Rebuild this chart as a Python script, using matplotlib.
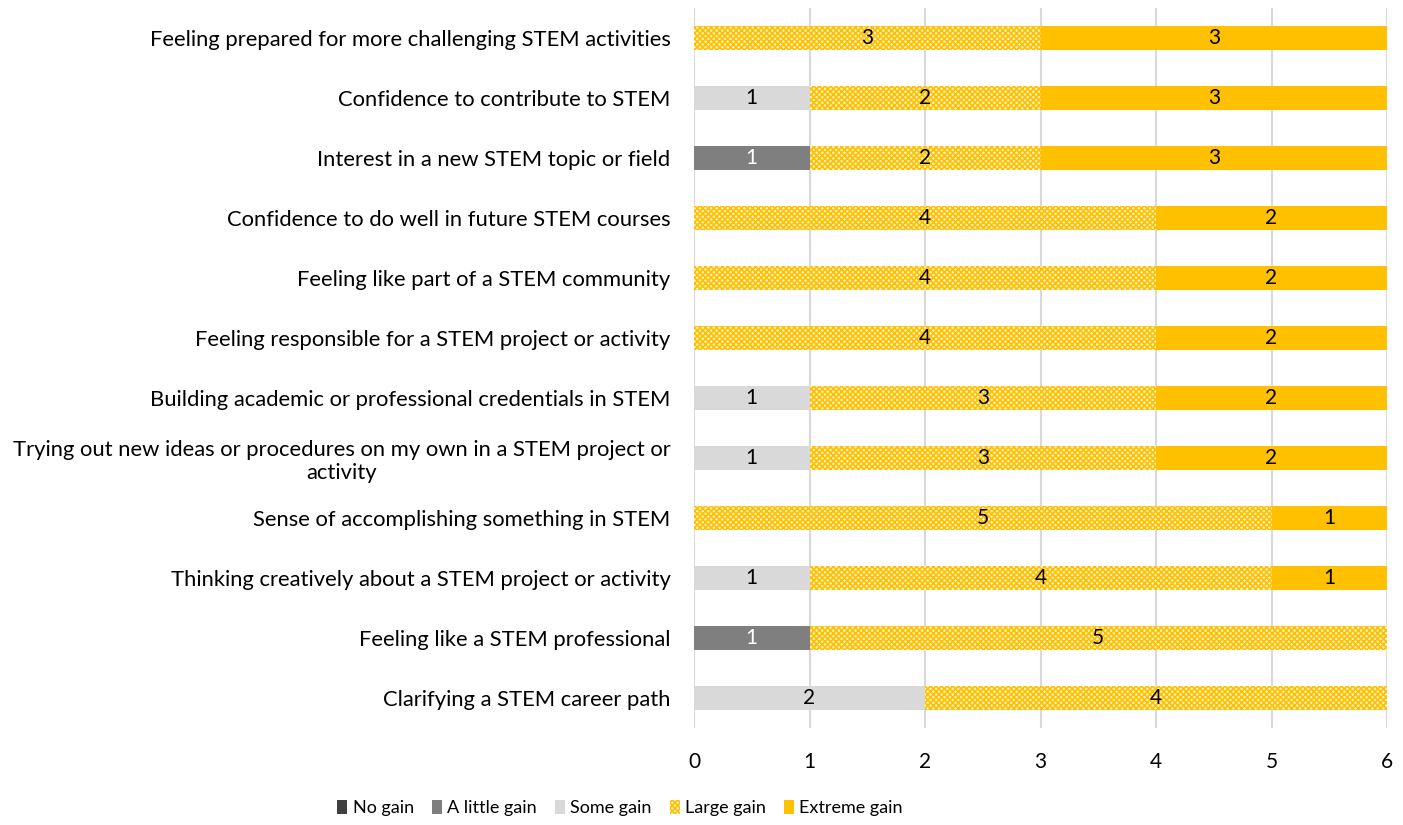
import matplotlib.pyplot as plt
import numpy as np

plt.rcParams["font.family"] = ["Lato", "DejaVu Sans"]
plt.rcParams["hatch.linewidth"] = 1.2

categories = [
    "Feeling prepared for more challenging STEM activities",
    "Confidence to contribute to STEM",
    "Interest in a new STEM topic or field",
    "Confidence to do well in future STEM courses",
    "Feeling like part of a STEM community",
    "Feeling responsible for a STEM project or activity",
    "Building academic or professional credentials in STEM",
    "Trying out new ideas or procedures on my own in a STEM project or\nactivity",
    "Sense of accomplishing something in STEM",
    "Thinking creatively about a STEM project or activity",
    "Feeling like a STEM professional",
    "Clarifying a STEM career path",
]

no_gain = [0, 0, 0, 0, 0, 0, 0, 0, 0, 0, 0, 0]
little_gain = [0, 0, 1, 0, 0, 0, 0, 0, 0, 0, 1, 0]
some_gain = [0, 1, 0, 0, 0, 0, 1, 1, 0, 1, 0, 2]
large_gain = [3, 2, 2, 4, 4, 4, 3, 3, 5, 4, 5, 4]
extreme_gain = [3, 3, 3, 2, 2, 2, 2, 2, 1, 1, 0, 0]

series = [
    ("No gain", no_gain, dict(color="#404040"), "white"),
    ("A little gain", little_gain, dict(color="#7f7f7f"), "white"),
    ("Some gain", some_gain, dict(color="#d9d9d9"), "black"),
    ("Large gain", large_gain,
     dict(facecolor="#fff3cc", edgecolor="#ffc000", hatch="xxxxxx", linewidth=0), "black"),
    ("Extreme gain", extreme_gain, dict(color="#ffc000"), "black"),
]

FS = 15.8

fig = plt.figure(figsize=(14.03, 8.25), dpi=100)
ax = fig.add_axes([694 / 1403, 97 / 825, 693 / 1403, 720 / 825])

y = np.arange(len(categories))
left = np.zeros(len(categories))
for name, vals, style, txt_color in series:
    vals = np.array(vals, dtype=float)
    ax.barh(y, vals, left=left, height=0.4, label=name, zorder=3, **style)
    # value labels centred in each non-empty segment
    for yi, l, v in zip(y, left, vals):
        if v > 0:
            ax.text(l + v / 2, yi, f"{int(v)}", ha="center", va="center",
                    fontsize=15, color=txt_color, zorder=4)
    left += vals

ax.set_ylim(len(categories) - 0.5, -0.5)
ax.set_xlim(0, 6)
ax.set_xticks(range(7))
ax.set_yticks(y)
ax.set_yticklabels(categories, multialignment="center")
ax.tick_params(axis="y", length=0, pad=17, labelsize=FS)
ax.tick_params(axis="x", length=0, pad=17, labelsize=15)
ax.grid(axis="x", color="#d9d9d9", linewidth=1.5, zorder=0)
for s in ax.spines.values():
    s.set_visible(False)

ax.legend(loc="center", bbox_to_anchor=(620 / 1403, 17 / 825),
          bbox_transform=fig.transFigure, ncol=5, frameon=False,
          fontsize=13, handlelength=0.55, handleheight=0.8,
          handletextpad=0.3, columnspacing=1.0)

fig.savefig("out.png", dpi=100)
